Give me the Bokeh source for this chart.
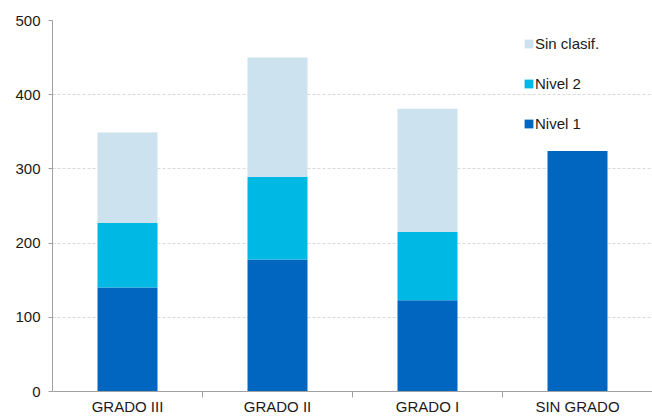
from bokeh.plotting import figure
from bokeh.models import ColumnDataSource, Range1d, FixedTicker, Legend
from bokeh.embed import file_html
from bokeh.resources import INLINE

categories = ["GRADO III", "GRADO II", "GRADO I", "SIN GRADO"]
nivel1 = [140, 178, 123, 324]
nivel2 = [87, 111, 92, 0]
sin_clasif = [122, 161, 166, 0]
series_names = ["Nivel 1", "Nivel 2", "Sin clasif."]
colors = ["#0066c0", "#00b8e4", "#cce2ee"]
y_ticks = [0, 100, 200, 300, 400, 500]

n = len(categories)
centers = [i + 0.5 for i in range(n)]
boundaries = list(range(1, n))

source = ColumnDataSource(dict(x=centers, cat=categories, n1=nivel1, n2=nivel2, sc=sin_clasif))

FONT = "Liberation Sans"
TXT = "#1a1a1a"
AX = "#a0a0a0"

p = figure(width=652, height=417, x_range=Range1d(0, n),
           y_range=Range1d(0, 500), output_backend="svg", toolbar_location=None,
           min_border_left=52, min_border_right=0,
           min_border_top=20, min_border_bottom=0)
p.outline_line_color = None
p.background_fill_color = "white"

renderers = p.vbar_stack(["n1", "n2", "sc"], x="x", width=0.4, color=colors,
                         source=source, line_color=None)

xa = p.xaxis[0]
xa.ticker = FixedTicker(ticks=centers, minor_ticks=boundaries)
xa.major_label_overrides = {c: lab for c, lab in zip(centers, categories)}
xa.axis_line_color = AX
xa.major_tick_line_color = None
xa.major_tick_in = 0
xa.major_tick_out = 0
xa.minor_tick_line_color = AX
xa.minor_tick_in = 0
xa.minor_tick_out = 6
xa.major_label_standoff = 0
xa.major_label_text_line_height = 0.85
xa.major_label_text_font = FONT
xa.major_label_text_font_size = "15px"
xa.major_label_text_color = TXT

ya = p.yaxis[0]
ya.ticker = FixedTicker(ticks=y_ticks)
ya.axis_line_color = AX
ya.major_tick_line_color = AX
ya.major_tick_in = 0
ya.major_tick_out = 4
ya.minor_tick_line_color = None
ya.major_label_standoff = 8
ya.major_label_text_font = FONT
ya.major_label_text_font_size = "15px"
ya.major_label_text_color = TXT

p.xgrid.grid_line_color = None
p.ygrid.ticker = FixedTicker(ticks=y_ticks[1:])
p.ygrid.grid_line_color = "#d9d9d9"
p.ygrid.grid_line_dash = "3 2"

legend = Legend(items=[(name, [r]) for name, r in zip(series_names, renderers)][::-1],
                location=(471, 259))
legend.orientation = "vertical"
legend.padding = 0
legend.margin = 0
legend.spacing = 22
legend.label_height = 18
legend.glyph_height = 11
legend.glyph_width = 11
legend.label_standoff = 1
legend.border_line_color = None
legend.background_fill_alpha = 0
legend.label_text_font = FONT
legend.label_text_font_size = "15px"
legend.label_text_color = TXT
p.add_layout(legend, "center")

open("out.html", "w").write(file_html(p, INLINE))
